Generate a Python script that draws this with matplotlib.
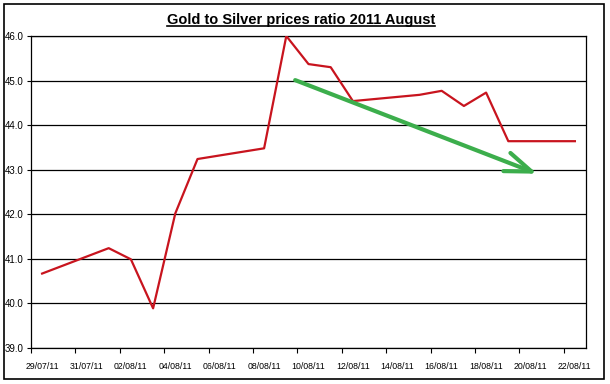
import matplotlib.pyplot as plt
import pandas as pd
import numpy as np
from matplotlib.patches import Rectangle
from matplotlib.lines import Line2D

plt.rcParams['font.family'] = ['Liberation Sans', 'DejaVu Sans']

# trading days and gold/silver ratio
dates = ['2011-07-29', '2011-08-01', '2011-08-02', '2011-08-03', '2011-08-04',
         '2011-08-05', '2011-08-08', '2011-08-09', '2011-08-10', '2011-08-11',
         '2011-08-12', '2011-08-15', '2011-08-16', '2011-08-17', '2011-08-18',
         '2011-08-19', '2011-08-22']
ratio = [40.67, 41.24, 40.99, 39.89, 42.02, 43.24, 43.48, 46.00, 45.37, 45.30,
         44.54, 44.68, 44.77, 44.43, 44.73, 43.64, 43.64]
start = '2011-07-29'
end = '2011-08-22'
tick_dates = pd.date_range(start, end, freq='2D')
tick_labels = [d.strftime('%d/%m/%y') for d in tick_dates]
y_ticks = [39, 40, 41, 42, 43, 44, 45, 46]

# trend arrow (day offset, ratio)
arrow_from = (11.4, 45.01)
arrow_to = (22.3, 42.91)

t0 = pd.Timestamp(start)
x = np.array([(pd.Timestamp(d) - t0).days for d in dates])
xt = np.array([(d - t0).days for d in tick_dates])

fig = plt.figure(figsize=(6.1, 3.84), dpi=100)
ax = fig.add_axes([31 / 610, 1 - 348 / 384, 555 / 610, 312 / 384])

ax.plot(x, ratio, color='#c8141e', lw=1.6, zorder=3)
ax.annotate('', xy=arrow_to, xytext=arrow_from,
            arrowprops=dict(arrowstyle='->,head_length=1.9,head_width=0.7',
                            color='#3cae4c', lw=3, shrinkA=0, shrinkB=0),
            zorder=4)

ax.set_xlim(-0.5, (pd.Timestamp(end) - t0).days + 0.5)
ax.set_ylim(39, 46)
ax.set_yticks(y_ticks)
ax.set_yticklabels([f'{v:.1f}' for v in y_ticks], fontsize=7)
ax.set_xticks(xt)
ax.set_xticklabels(tick_labels, fontsize=6.3)
ax.set_xticks(list(xt - 0.5), minor=True)
ax.tick_params(axis='x', which='major', length=0, pad=10)
ax.tick_params(axis='x', which='minor', length=3.5, width=0.8, direction='out')
ax.tick_params(axis='y', length=3, width=0.8, pad=2, direction='out')
ax.grid(axis='y', color='black', lw=0.9)
for s in ax.spines.values():
    s.set_linewidth(0.9)

title = fig.text(0.493, 1 - 19 / 384, 'Gold to Silver prices ratio 2011 August',
                 ha='center', va='baseline', fontsize=10.5, fontweight='bold')
title.set_y(1 - 24 / 384)

fig.patches.append(Rectangle((4 / 610, 1 - 379 / 384), 600 / 610, 375 / 384,
                             transform=fig.transFigure, fill=False,
                             edgecolor='black', lw=1.2))

fig.canvas.draw()
bb = title.get_window_extent().transformed(fig.transFigure.inverted())
uy = 1 - 26 / 384
fig.lines.append(Line2D([bb.x0, bb.x1], [uy, uy],
                        transform=fig.transFigure, color='black', lw=1.2))

plt.savefig('out.png', dpi=100)
